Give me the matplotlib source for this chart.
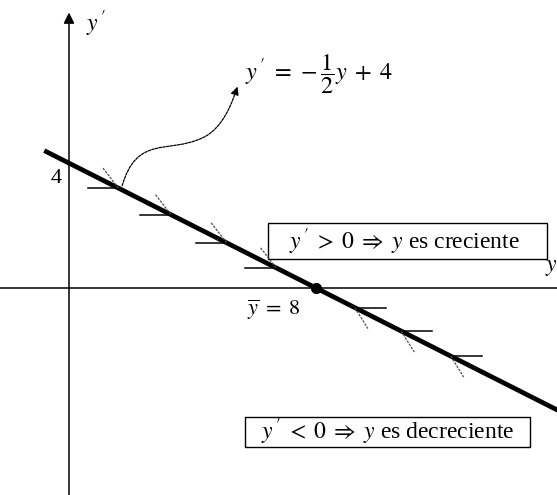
import matplotlib

matplotlib.use("Agg")
import matplotlib.pyplot as plt
import numpy as np
from matplotlib.path import Path
from matplotlib.patches import FancyArrowPatch, Rectangle

plt.rcParams["font.family"] = ["Liberation Serif", "DejaVu Serif"]
plt.rcParams["mathtext.fontset"] = "stix"

# slope field data: y' = -1/2 y + 4
slope = -0.5
intercept = 4.0
equilibrium = 8.0
line_x = [-0.8, 16.5]
up_points = [1.6, 3.3, 5.1, 6.7]       # y' > 0, arrows point right
down_points = [9.25, 10.75, 12.35]     # y' < 0, arrows point left
tick_len = 1.0

# callout curve (data coords) from the line up to the equation
callout = [(1.72, 3.28), (2.2, 4.9), (3.2, 4.3), (4.3, 4.8),
           (5.0, 5.1), (5.3, 6.0), (5.45, 6.45)]

xmin, xmax = -2.233, 15.79
ymin, ymax = -6.62, 9.22

fig = plt.figure(figsize=(5.57, 4.95), dpi=100)
ax = fig.add_axes([0, 0, 1, 1])
ax.set_xlim(xmin, xmax)
ax.set_ylim(ymin, ymax)
ax.axis("off")

# axes
ax.plot([xmin, xmax], [0, 0], color="black", lw=1.1)
ax.annotate("", xy=(0, 8.82), xytext=(0, ymin),
            arrowprops=dict(arrowstyle="-|>", color="black", lw=1.1,
                            mutation_scale=16, shrinkA=0, shrinkB=0))

# main line
lx = np.array(line_x)
ax.plot(lx, slope * lx + intercept, color="black", lw=3.4, solid_capstyle="butt")
ax.plot([equilibrium], [0], "o", color="black", ms=7)


def f(v):
    return slope * v + intercept


# horizontal direction marks with half arrowheads
for p in up_points:
    yy = f(p)
    ax.plot([p - tick_len, p], [yy, yy], color="black", lw=1.1)
    ax.plot([p - 0.5, p], [yy + 0.64, yy], color="0.3", lw=0.9, ls=(0, (2, 1)))
for p in down_points:
    yy = f(p)
    ax.plot([p, p + tick_len], [yy, yy], color="black", lw=1.1)
    ax.plot([p, p + 0.42], [yy, yy - 0.67], color="0.3", lw=0.9, ls=(0, (2, 1)))

# callout curve
codes = [Path.MOVETO] + [Path.CURVE4] * 6
ax.add_patch(FancyArrowPatch(path=Path(callout, codes), arrowstyle="-|>",
                             mutation_scale=12, color="black", lw=0.9,
                             linestyle=(0, (2, 1))))

# labels
ax.text(0.55, 8.45, r"$y\,^{\prime}$", fontsize=17, ha="left", va="center")
ax.text(15.4, 0.65, r"$y$", fontsize=17, ha="left", va="center")
ax.text(-0.42, 3.5, "4", fontsize=16, ha="center", va="center")
ax.text(6.6, -0.7, r"$\overline{y}\;=\;8$", fontsize=16, ha="center", va="center")
ax.text(5.7, 6.85, r"$y\,^{\prime}\;=\,-\dfrac{1}{2}y\;+\;4$", fontsize=17.5,
        ha="left", va="center")

# statement boxes
ax.add_patch(Rectangle((6.44, 0.93), 9.03, 1.15, fill=False, ec="black", lw=1.0))
ax.text(10.86, 1.5, r"$y\,^{\prime}\;>\;0\;\Rightarrow\;y$ es creciente",
        fontsize=17, ha="center", va="center")
ax.add_patch(Rectangle((5.70, -5.09), 9.22, 0.96, fill=False, ec="black", lw=1.0))
ax.text(10.32, -4.6, r"$y\,^{\prime}\;<\;0\;\Rightarrow\;y$ es decreciente",
        fontsize=17, ha="center", va="center")

fig.savefig("out.png", dpi=100)
